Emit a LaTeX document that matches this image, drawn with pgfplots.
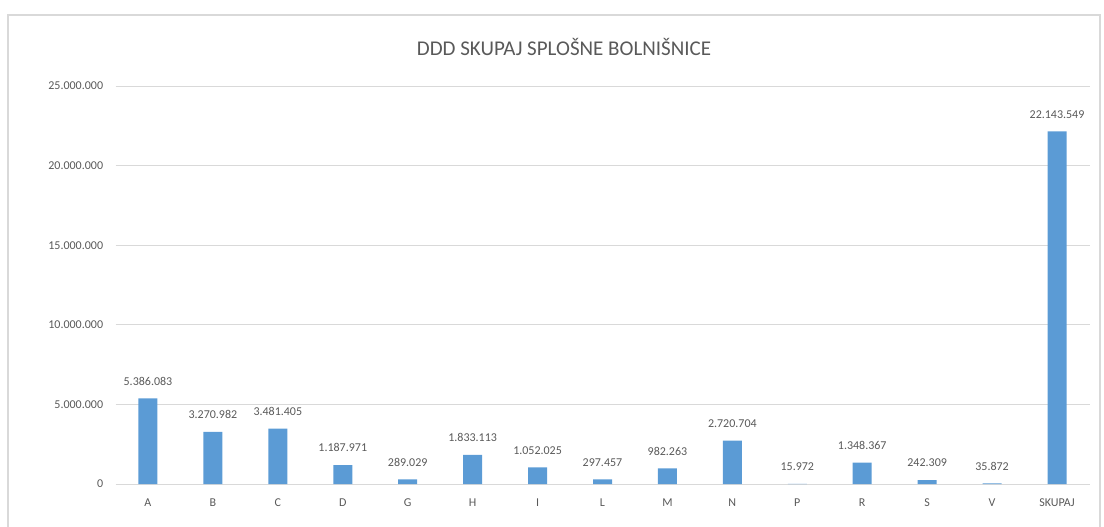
\documentclass[border=0pt]{standalone}
\usepackage{pgfplots}
\pgfplotsset{compat=1.18}
\usepackage{pgfplotstable}
\usepackage{fontspec}
\setmainfont{Carlito}
\definecolor{barblue}{HTML}{5B9BD5}
\definecolor{txtgrey}{HTML}{595959}
\definecolor{gridgrey}{HTML}{D9D9D9}
\pgfplotstableread{
x y lab
0 5386083 5.386.083
1 3270982 3.270.982
2 3481405 3.481.405
3 1187971 1.187.971
4 289029 289.029
5 1833113 1.833.113
6 1052025 1.052.025
7 297457 297.457
8 982263 982.263
9 2720704 2.720.704
10 15972 15.972
11 1348367 1.348.367
12 242309 242.309
13 35872 35.872
14 22143549 22.143.549
}\datatable
\begin{document}
\begin{tikzpicture}
\path[use as bounding box] (0,0) rectangle (552pt,-263pt);
\draw[gridgrey, line width=0.6pt] (4pt,-7.5pt) rectangle (550pt,-266pt);
\node[txtgrey, font=\fontsize{10.5pt}{12pt}\selectfont] at (282pt,-23.5pt) {DDD SKUPAJ SPLOŠNE BOLNIŠNICE};
\begin{axis}[
  at={(57.75pt,-242pt)}, anchor=south west,
  scale only axis, width=487pt, height=199pt,
  xmin=-0.5, xmax=14.5, ymin=0, ymax=25000000,
  axis line style={draw=none},
  ymajorgrids, grid style={gridgrey, line width=0.5pt},
  major tick length=0pt,
  xtick=data,
  xticklabels={A,B,C,D,G,H,I,L,M,N,P,R,S,V,SKUPAJ},
  ytick={0,5000000,10000000,15000000,20000000,25000000},
  scaled y ticks=false,
  /pgf/number format/.cd, fixed, 1000 sep={.}, assume math mode=true,
  /pgfplots/.cd,
  tick label style={txtgrey, font=\fontsize{6pt}{7pt}\selectfont},
  yticklabel style={anchor=east, inner sep=0pt, xshift=-6pt},
  xticklabel style={anchor=north, inner sep=0pt, yshift=-7pt},
  nodes near coords, point meta=explicit symbolic,
  every node near coord/.append style={txtgrey, font=\fontsize{6pt}{7pt}\selectfont, yshift=3pt},
  clip=false,
]
\addplot[ybar, bar width=9.5pt, fill=barblue, draw=none] table[x=x, y=y, meta=lab] {\datatable};
\end{axis}
\end{tikzpicture}
\end{document}
